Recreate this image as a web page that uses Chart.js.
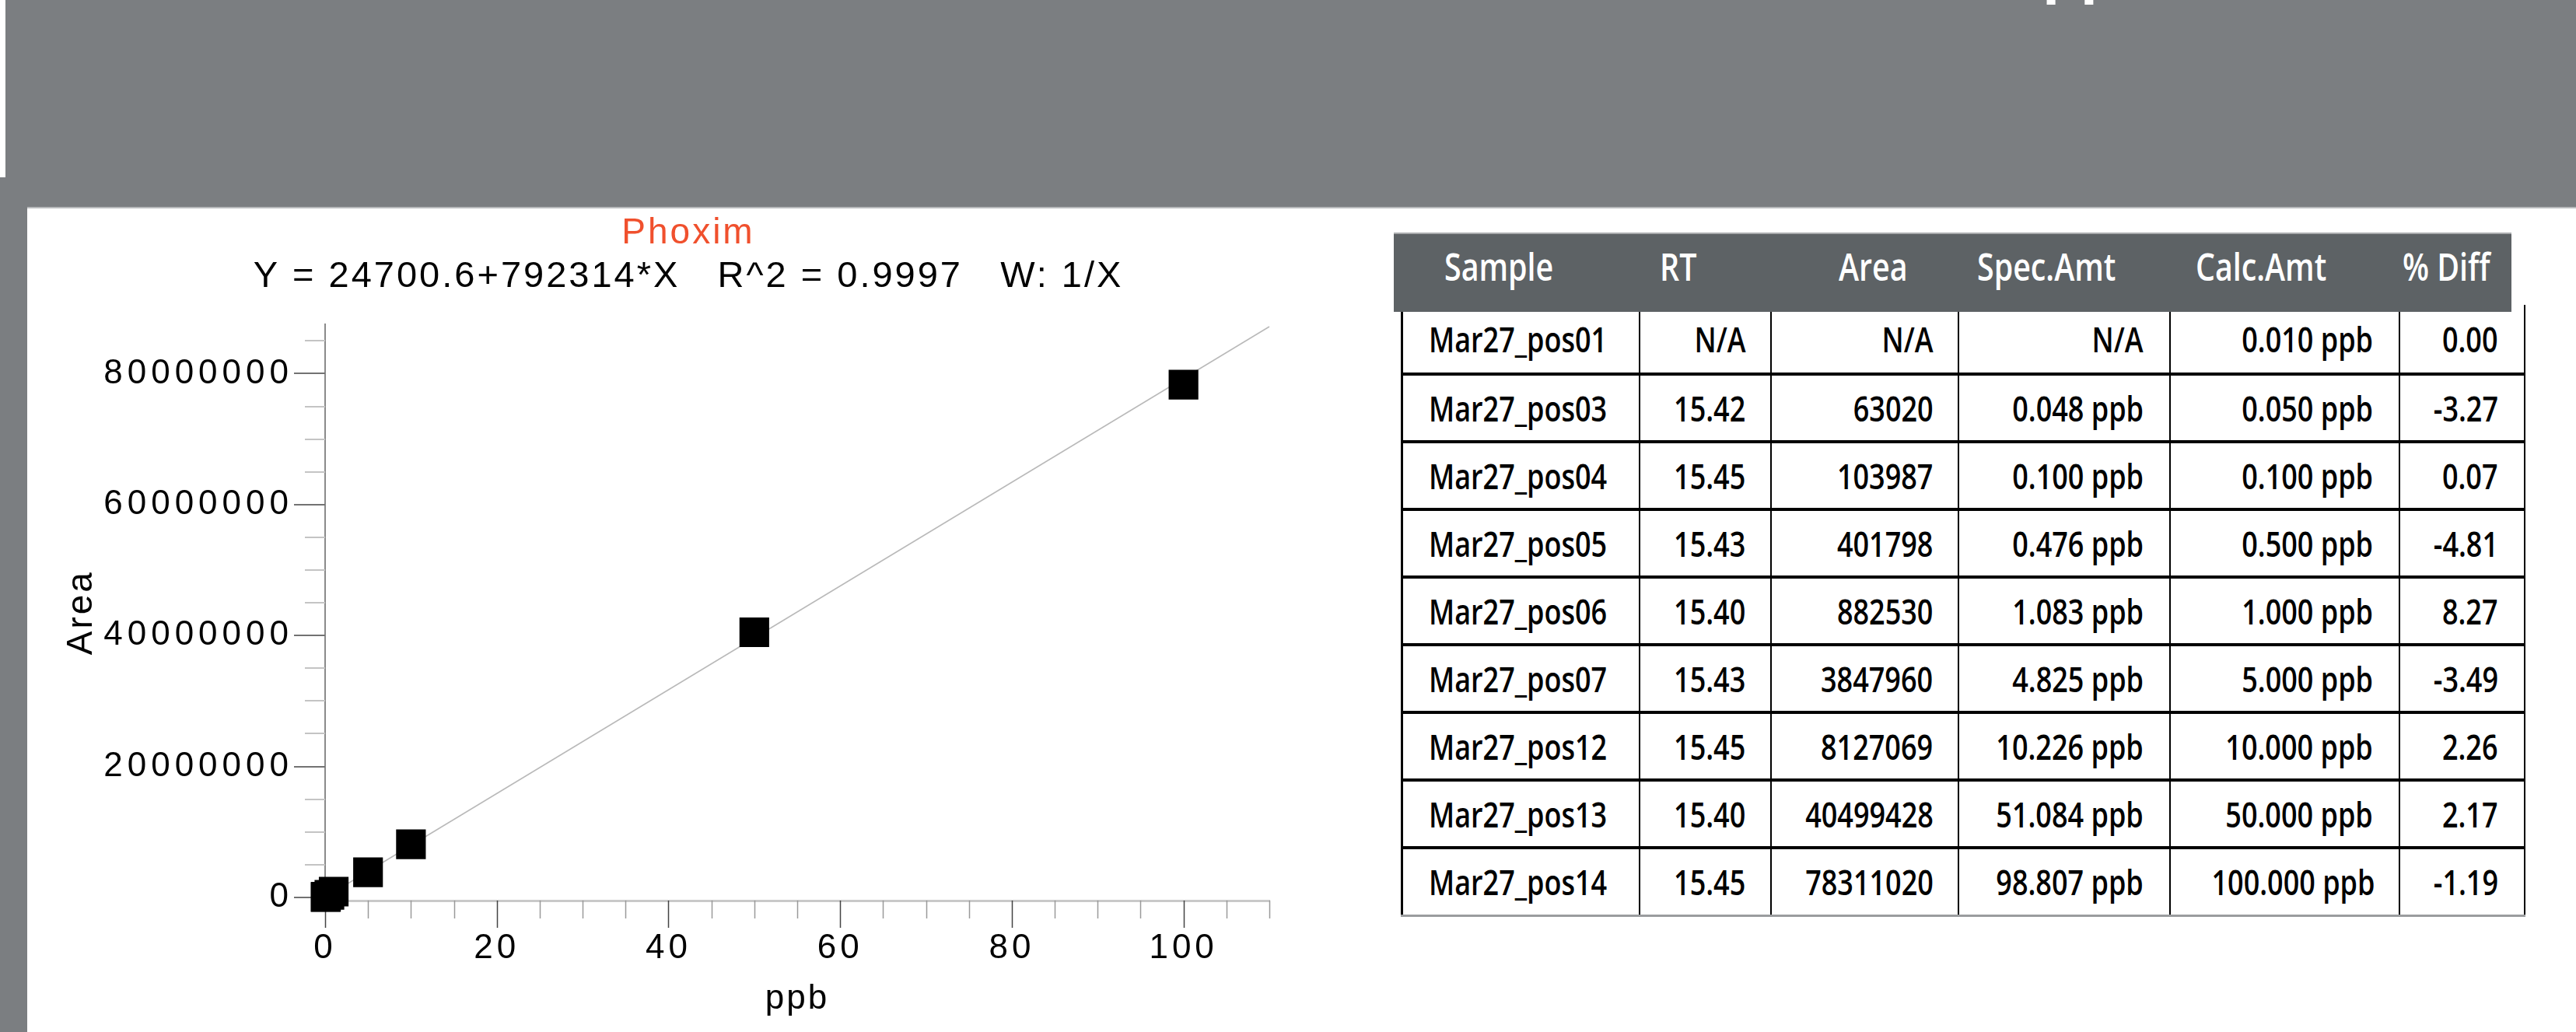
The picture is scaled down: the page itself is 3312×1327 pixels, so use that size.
<!DOCTYPE html>
<html>
<head>
<meta charset="utf-8">
<script src="https://cdn.jsdelivr.net/npm/chart.js@4.4.0/dist/chart.umd.min.js"></script>
<style>
html, body { margin: 0; padding: 0; background: #fff; }
body { width: 3312px; height: 1327px; overflow: hidden; position: relative; font-family: "Liberation Sans", Arial, sans-serif; }
#band { position: absolute; left: 7px; top: 0; width: 3305px; height: 267px; background: #7b7e81; }
#strip { position: absolute; left: 0; top: 228px; width: 35px; height: 1099px; background: #7b7e81; }
#rule { position: absolute; left: 35px; top: 266px; width: 3277px; height: 2px; background: #b9bbbd; }
#topText { position: absolute; left: 2626px; top: -78px; font: bold 80px/80px "Liberation Sans", Arial, sans-serif; color: #fff; white-space: nowrap; }
#chartBox { position: absolute; left: 35px; top: 269px; width: 1700px; height: 1058px; }
#thead { position: absolute; left: 1792px; top: 299px; width: 1437px; height: 102px; background: #5d6265; border-top: 2px solid #a9abad; box-sizing: border-box; z-index: 2; }
#thead span { position: absolute; top: 18px; font: 600 48px/48px "Open Sans", sans-serif; color: #fff; transform: scaleX(0.82); transform-origin: left center; white-space: nowrap; }
#tbl { position: absolute; left: 1801px; top: 392px; border-collapse: collapse; table-layout: fixed; width: 1443px; }
#tbl td { border-left: 2px solid #000; border-right: 2px solid #000; border-bottom: 4px solid #000; padding: 0 33px 0 0; text-align: right; vertical-align: middle; font: 600 45px/1 "Open Sans", sans-serif; color: #000; white-space: nowrap; }
#tbl td span { display: inline-block; transform: scaleX(0.8); transform-origin: right center; }
#tbl td.s { text-align: left; padding: 0 0 0 33px; border-left-width: 3px; }
#tbl td.s span { transform-origin: left center; }
#tbl td.p31 { padding-right: 31px; }
#tbl tr:last-child td { border-bottom: 3px solid #9a9c9e; }
</style>
</head>
<body>
<div id="band"></div>
<div id="strip"></div>
<div id="rule"></div>
<div id="topText">pp</div>
<div id="chartBox"><canvas id="calChart" width="1700" height="1058"></canvas></div>
<div id="thead"></div>
<table id="tbl">
  <colgroup>
    <col style="width:305px"><col style="width:169px"><col style="width:241px"><col style="width:272px"><col style="width:295px"><col style="width:161px">
  </colgroup>
  <tbody id="tbody"></tbody>
</table>
<script>
const samples = ["Mar27_pos01", "Mar27_pos03", "Mar27_pos04", "Mar27_pos05", "Mar27_pos06", "Mar27_pos07", "Mar27_pos12", "Mar27_pos13", "Mar27_pos14"];
const rtValues = [null, 15.42, 15.45, 15.43, 15.40, 15.43, 15.45, 15.40, 15.45];
const areaValues = [null, 63020, 103987, 401798, 882530, 3847960, 8127069, 40499428, 78311020];
const specAmt = [null, 0.048, 0.100, 0.476, 1.083, 4.825, 10.226, 51.084, 98.807];
const calcAmt = [0.010, 0.050, 0.100, 0.500, 1.000, 5.000, 10.000, 50.000, 100.000];
const pctDiff = [0.00, -3.27, 0.07, -4.81, 8.27, -3.49, 2.26, 2.17, -1.19];

// fitted line end points
const fitX = [0, 110];
const fitY = [24700.6, 87179241];

// axis ticks
const xTicks = [0, 20, 40, 60, 80, 100];
const xMinorTicks = [5, 10, 15, 25, 30, 35, 45, 50, 55, 65, 70, 75, 85, 90, 95, 105, 110];
const yTicks = [0, 20000000, 40000000, 60000000, 80000000];
const yMinorTicks = [5000000, 10000000, 15000000, 25000000, 30000000, 35000000, 45000000, 50000000, 55000000, 65000000, 70000000, 75000000, 85000000];

const headers = ["Sample", "RT", "Area", "Spec.Amt", "Calc.Amt", "% Diff"];
const headerLeft = [65, 342, 572, 750, 1031, 1297];

// ---- table ----
const thead = document.getElementById("thead");
headers.forEach((h, i) => {
    const s = document.createElement("span");
    s.textContent = h;
    s.style.left = headerLeft[i] + "px";
    thead.appendChild(s);
});

const tbody = document.getElementById("tbody");
const fmt = (v, d, unit) => v === null ? "N/A" : v.toFixed(d) + (unit || "");
samples.forEach((name, i) => {
    const tr = document.createElement("tr");
    tr.style.height = (i === 0 ? 89 : 87) + "px";
    const cells = [
        [name, "s"],
        [fmt(rtValues[i], 2), "p31"],
        [areaValues[i] === null ? "N/A" : String(areaValues[i]), "p31"],
        [fmt(specAmt[i], 3, " ppb"), ""],
        [fmt(calcAmt[i], 3, " ppb"), ""],
        [pctDiff[i].toFixed(2), ""]
    ];
    cells.forEach(c => {
        const td = document.createElement("td");
        if (c[1]) td.className = c[1];
        const sp = document.createElement("span");
        sp.textContent = c[0];
        td.appendChild(sp);
        tr.appendChild(td);
    });
    tbody.appendChild(tr);
});

// ---- chart ----
const family = '"Liberation Sans", Arial, sans-serif';
Chart.defaults.font.family = family;
Chart.defaults.color = "#000";

const points = [];
calcAmt.forEach((x, i) => {
    if (areaValues[i] !== null) points.push({x: x, y: areaValues[i]});
});
const fitLine = fitX.map((x, i) => ({x: x, y: fitY[i]}));

// letter spacing for axis labels
function spaceLabels(px) {
    return axis => {
        if (axis._spaced) return;
        axis._spaced = true;
        const drawLabels = axis.drawLabels;
        axis.drawLabels = function (area) {
            this.ctx.save();
            this.ctx.letterSpacing = px;
            drawLabels.call(this, area);
            this.ctx.restore();
        };
    };
}

const tickMarks = {
    id: "tickMarks",
    afterLayout(chart) {
        // titles are centred on the whole canvas, not on the padded box
        chart.boxes.forEach(b => {
            if (b.position === "top" && b.options && b.options.text !== undefined) {
                b.left = 0;
                b.right = chart.width;
            }
        });
    },
    beforeDraw(chart) {
        chart.ctx.letterSpacing = "3px";
    },
    beforeDatasetsDraw(chart) {
        const {ctx, chartArea, scales: {x, y}} = chart;
        ctx.save();
        const yMarks = (vals, len, color) => {
            ctx.strokeStyle = color;
            ctx.lineWidth = 2;
            ctx.beginPath();
            vals.forEach(v => {
                const py = Math.round(y.getPixelForValue(v));
                ctx.moveTo(chartArea.left - len, py);
                ctx.lineTo(chartArea.left, py);
            });
            ctx.stroke();
        };
        const xMarks = (vals, len, color) => {
            ctx.strokeStyle = color;
            ctx.lineWidth = 1.5;
            ctx.beginPath();
            vals.forEach(v => {
                const px = Math.round(x.getPixelForValue(v)) + 0.5;
                ctx.moveTo(px, chartArea.bottom);
                ctx.lineTo(px, chartArea.bottom + len);
            });
            ctx.stroke();
        };
        yMarks(yMinorTicks, 26, "#c4c4c4");
        yMarks(yTicks, 40, "#727272");
        xMarks(xMinorTicks, 23, "#9a9a9a");
        xMarks(xTicks, 35, "#444");
        ctx.restore();
    }
};

new Chart(document.getElementById("calChart"), {
    type: "scatter",
    data: {
        datasets: [
            {
                data: points,
                pointStyle: "rect",
                pointRadius: 27,
                pointHoverRadius: 27,
                backgroundColor: "#000",
                borderWidth: 0,
                clip: false,
                order: 0
            },
            {
                data: fitLine,
                showLine: true,
                borderColor: "#b9b9b9",
                borderWidth: 1.5,
                pointRadius: 0,
                clip: false,
                order: 1
            }
        ]
    },
    options: {
        responsive: false,
        animation: false,
        devicePixelRatio: 1,
        layout: {padding: {left: 0, right: 103, top: 0, bottom: 0}},
        plugins: {
            legend: {display: false},
            tooltip: {enabled: false},
            title: {
                display: true,
                text: "Phoxim",
                color: "#f0502d",
                font: {size: 46, weight: "normal", lineHeight: 1.1},
                padding: {top: 6, bottom: 1}
            },
            subtitle: {
                display: true,
                text: "Y = 24700.6+792314*X   R^2 = 0.9997   W: 1/X",
                color: "#000",
                font: {size: 47, lineHeight: 1.1},
                padding: {top: 4, bottom: 35}
            }
        },
        scales: {
            x: {
                type: "linear",
                min: 0,
                max: 110,
                afterBuildTicks: axis => { axis.ticks = xTicks.map(v => ({value: v})); },
                afterFit: axis => { axis.height = 169; },
                afterUpdate: spaceLabels("5px"),
                grid: {display: false, drawTicks: false},
                border: {display: true, color: "#c9c9c9", width: 3},
                ticks: {padding: 35, color: "#000", font: {size: 44}, autoSkip: false, maxRotation: 0},
                title: {display: true, text: "ppb", color: "#000", font: {size: 44}, padding: {top: 0, bottom: 16}}
            },
            y: {
                type: "linear",
                min: -480000,
                max: 87500000,
                afterBuildTicks: axis => { axis.ticks = yTicks.map(v => ({value: v})); },
                afterFit: axis => { axis.width = 383; },
                afterUpdate: spaceLabels("6px"),
                grid: {display: false, drawTicks: false},
                border: {display: true, color: "#8a8a8a", width: 2},
                ticks: {padding: 41, color: "#000", font: {size: 44}, callback: v => String(v)},
                title: {display: true, text: "Area", color: "#000", font: {size: 46}, padding: {top: 43, bottom: 0}}
            }
        }
    },
    plugins: [tickMarks]
});
</script>
</body>
</html>
